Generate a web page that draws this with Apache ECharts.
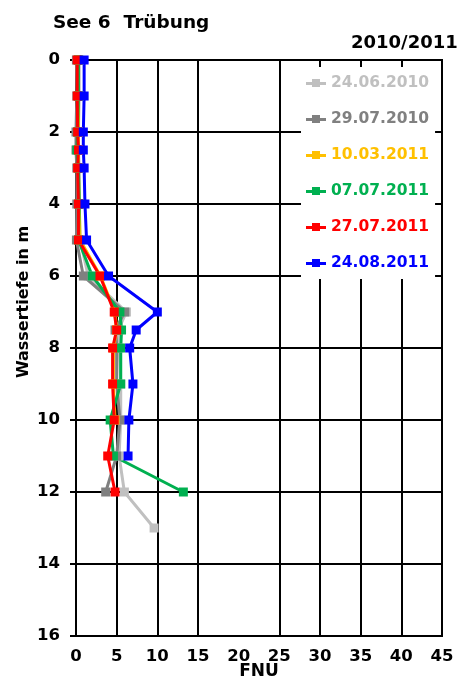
<!DOCTYPE html>
<html>
<head>
<meta charset="utf-8">
<script src="https://cdn.jsdelivr.net/npm/echarts@6/dist/echarts.min.js"></script>
<style>
  html, body { margin: 0; padding: 0; background: #fff; }
  #chart { width: 463px; height: 692px; }
</style>
</head>
<body>
<div id="chart"></div>
<script>
// Tiefen (m) der Messpunkte
const depths = [0, 1, 2, 2.5, 3, 4, 5, 6, 7, 7.5, 8, 9, 10, 11, 12, 13];

// Trübung in FNU je Messtag
const names = ["24.06.2010", "29.07.2010", "10.03.2011", "07.07.2011", "27.07.2011", "24.08.2011"];
const colors = ["#c0c0c0", "#808080", "#ffc000", "#00b050", "#ff0000", "#0000ff"];
const fnu240610 = [0.4, 0.4, 0.3, 0.3, 0.4, 0.4, 0.5, 1.5, 6.2, 5.2, 5.3, 5.5, 5.5, 5.3, 5.95, 9.6];
const fnu290710 = [0.05, 0.1, 0.0, 0.0, 0.1, 0.1, 0.05, 0.9, 6.0, 4.8, 5.0, 5.0, 5.4, 5.0, 3.65];
const fnu100311 = [0.3, 0.3, 0.3, 0.3, 0.3, 0.4, 0.5, 3.0, 4.8, 5.0, 4.6, 4.6, 4.8];
const fnu070711 = [0.3, 0.3, 0.2, 0.1, 0.3, 0.4, 0.3, 2.0, 5.4, 5.6, 5.5, 5.5, 4.2, 4.6, 13.2];
const fnu270711 = [0.15, 0.15, 0.2, 0.3, 0.2, 0.3, 0.3, 2.95, 4.7, 5.0, 4.5, 4.5, 4.7, 3.9, 4.8];
const fnu240811 = [1.0, 1.0, 0.9, 0.9, 1.0, 1.1, 1.3, 4.0, 10.0, 7.4, 6.6, 7.0, 6.5, 6.4];
const values = [fnu240610, fnu290710, fnu100311, fnu070711, fnu270711, fnu240811];

// Achsen
const xTicks = [0, 5, 10, 15, 25, 30, 35, 40];
const xMax = 45;
const yMax = 16;

const font = "DejaVu Sans";
const icon = "path://M0,4 L20,4 L20,7 L0,7 Z M6,1 L14,1 L14,9 L6,9 Z";

var chart = echarts.init(document.getElementById("chart"));

var series = names.map(function (name, i) {
  return {
    name: name,
    type: "line",
    clip: false,
    symbol: "rect",
    symbolSize: 9,
    color: colors[i],
    lineStyle: { width: 3, color: colors[i] },
    itemStyle: { color: colors[i] },
    data: values[i].map(function (v, k) { return [v, depths[k]]; }),
  };
});

var option = {
  animation: false,
  title: [
    {
      text: "See 6  Trübung",
      left: 48, top: 9,
      textStyle: { fontFamily: font, fontWeight: "bold", fontSize: 18.5, color: "#000" },
    },
    {
      text: "2010/2011",
      left: 346, top: 29,
      textStyle: { fontFamily: font, fontWeight: "bold", fontSize: 18, color: "#000" },
    },
  ],
  grid: {
    left: 76, right: 21, top: 60, bottom: 56,
    show: true, borderColor: "#000", borderWidth: 2,
    backgroundColor: "transparent",
  },
  legend: {
    orient: "vertical",
    left: 301, top: 67,
    padding: [8, 6, 8, 5],
    itemGap: 20,
    itemWidth: 20, itemHeight: 9,
    backgroundColor: "#fff",
    icon: icon,
    data: names.map(function (n, i) {
      return { name: n, textStyle: { color: colors[i] } };
    }),
    textStyle: { fontFamily: font, fontWeight: "bold", fontSize: 15.5, lineHeight: 16 },
  },
  xAxis: {
    type: "value",
    min: 0, max: xMax, interval: 5,
    name: "FNU",
    nameLocation: "middle",
    nameGap: 27,
    nameMoveOverlap: false,
    nameTextStyle: { fontFamily: font, fontWeight: "bold", fontSize: 17, color: "#000", verticalAlign: "top" },
    axisLine: { lineStyle: { color: "#000", width: 2 } },
    axisTick: { show: true, length: 6, customValues: xTicks, lineStyle: { color: "#000", width: 2 } },
    axisLabel: { fontFamily: font, fontWeight: "bold", fontSize: 16.5, color: "#000", margin: 12 },
    splitLine: { show: true, lineStyle: { color: "#000", width: 2 } },
  },
  yAxis: {
    type: "value",
    inverse: true,
    min: 0, max: yMax, interval: 2,
    axisLine: { show: true, lineStyle: { color: "#000", width: 2 } },
    axisTick: { show: true, length: 6, lineStyle: { color: "#000", width: 2 } },
    axisLabel: { fontFamily: font, fontWeight: "bold", fontSize: 16.5, color: "#000", margin: 16 },
    splitLine: { show: true, lineStyle: { color: "#000", width: 2 } },
  },
  graphic: [
    {
      type: "text",
      x: 24, y: 302,
      rotation: Math.PI / 2,
      style: {
        text: "Wassertiefe in m",
        fontFamily: font, fontWeight: "bold", fontSize: 16,
        fill: "#000", align: "center", verticalAlign: "middle",
      },
    },
  ],
  series: series,
};

chart.setOption(option);
</script>
</body>
</html>
